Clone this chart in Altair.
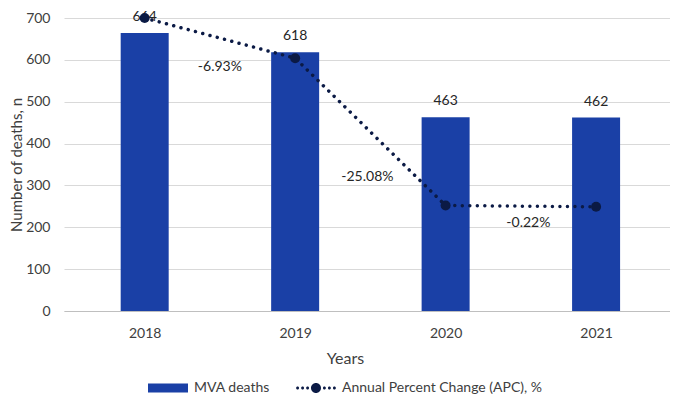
import altair as alt
import pandas as pd

years = [2018, 2019, 2020, 2021]
deaths = [664, 618, 463, 462]
apc_line_y = [700, 604, 252, 249]
apc_labels = ["-6.93%", "-25.08%", "-0.22%"]
apc_label_x = [2018.5, 2019.48, 2020.55]
apc_label_y = [582, 321, 211]
series = ["MVA deaths", "Annual Percent Change (APC), %"]
y_ticks = [0, 100, 200, 300, 400, 500, 600, 700]

BAR = "#1a40a6"
NAVY = "#0b1a45"
FONT = "Lato"
TXT = "#404040"

bars_df = pd.DataFrame({"year": years, "deaths": deaths})
line_df = pd.DataFrame({"year": years, "y": apc_line_y})
lab_df = pd.DataFrame({"x": apc_label_x, "y": apc_label_y, "label": apc_labels})
leg_df = pd.DataFrame({"series": series, "year": [2018, 2018], "y": [0, 0]})

x_scale = alt.Scale(domain=[2017.497, 2021.458], nice=False, zero=False)
y_scale = alt.Scale(domain=[0, 700], nice=False)

x_axis = alt.Axis(values=years, format="d", grid=False, ticks=False,
                  domainColor="#bfbfbf", labelFontSize=14, labelColor=TXT,
                  labelFont=FONT, labelPadding=15, title="Years",
                  titleFontSize=16, titleFontWeight="normal", titleColor=TXT,
                  titleFont=FONT, titleX=281, titlePadding=10)
y_axis = alt.Axis(values=y_ticks, grid=True, gridColor="#d9d9d9", domain=False,
                  ticks=False, labelFontSize=14, labelColor=TXT, labelFont=FONT,
                  labelPadding=14, title="Number of deaths, n", titleFontSize=15,
                  titleFontWeight="normal", titleColor=TXT, titleFont=FONT,
                  titlePadding=1)

X = alt.X("year:Q", scale=x_scale, axis=x_axis)

bars = alt.Chart(bars_df).mark_bar(color=BAR, size=48).encode(
    x=X, y=alt.Y("deaths:Q", scale=y_scale, axis=y_axis))

bar_text = alt.Chart(bars_df).mark_text(
    dy=-16, fontSize=14, font=FONT, color="#262626").encode(
    x=alt.X("year:Q"), y=alt.Y("deaths:Q"), text="deaths:Q")

line = alt.Chart(line_df).mark_line(
    color=NAVY, strokeWidth=3.5, strokeDash=[0.01, 7.5], strokeCap="round").encode(
    x=alt.X("year:Q"), y=alt.Y("y:Q"))

points = alt.Chart(line_df).mark_point(
    filled=True, size=100, opacity=1, color=NAVY).encode(
    x=alt.X("year:Q"), y=alt.Y("y:Q"))

apc_text = alt.Chart(lab_df).mark_text(
    fontSize=14, font=FONT, color="#262626").encode(
    x=alt.X("x:Q"), y=alt.Y("y:Q"), text="label:N")

RECT = "M-1,-0.225H1V0.225H-1Z"
def dot(cx, r):
    return (f"M{cx - r},0a{r},{r} 0 1,0 {2 * r},0a{r},{r} 0 1,0 {-2 * r},0Z")
DOTS = "".join(dot(c, 0.075) for c in [-0.92, -0.67, -0.42, 0.42, 0.67, 0.92]) + dot(0, 0.25)

legend = alt.Legend(orient="none", legendX=84, legendY=350, direction="horizontal",
                    title=None, symbolSize=1600, labelFontSize=14, labelFont=FONT,
                    labelColor=TXT, columnPadding=26, labelOffset=6, labelLimit=400,
                    symbolOpacity=1, symbolStrokeWidth=0)

leg_layer = alt.Chart(leg_df).mark_point(filled=True, opacity=1).encode(
    x=alt.X("year:Q"), y=alt.Y("y:Q"),
    color=alt.Color("series:N", scale=alt.Scale(domain=series, range=[BAR, NAVY]),
                    legend=legend),
    shape=alt.Shape("series:N", scale=alt.Scale(domain=series, range=[RECT, DOTS]),
                    legend=legend),
).transform_filter("false")

chart = alt.layer(bars, bar_text, line, points, apc_text, leg_layer).properties(
    width=606, height=293,
    padding={"left": 56, "top": 10, "right": 0, "bottom": 85},
    autosize=alt.AutoSizeParams(type="none"),
).configure_view(stroke=None)

chart.save("out.html", embed_options={"renderer": "svg", "actions": False})
